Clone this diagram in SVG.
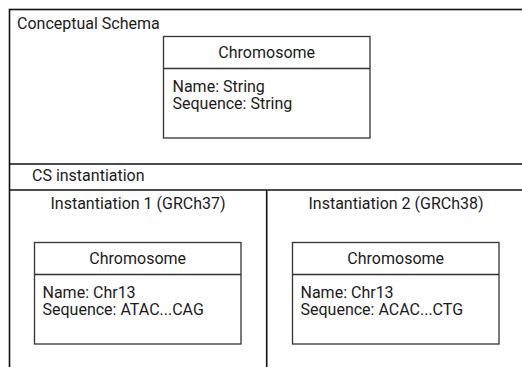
<svg xmlns="http://www.w3.org/2000/svg" width="522" height="367" viewBox="0 0 522 367">
<style>
.frame{fill:none;stroke:#111;stroke-width:1.6}
.box{fill:#fff;stroke:#333;stroke-width:1.3}
text{font-family:Roboto,"Liberation Sans",Arial,sans-serif;font-size:16px;fill:#1a1a1a}
.c{text-anchor:middle}
</style>
<rect width="522" height="367" fill="#fff"/>
<g id="frame">
<rect class="frame" x="9.5" y="9.5" width="530" height="380"/>
<line class="frame" x1="9.5" y1="164" x2="530" y2="164"/>
<line class="frame" x1="9.5" y1="190" x2="530" y2="190"/>
<line class="frame" x1="266.7" y1="190" x2="266.7" y2="380"/>
<text x="17" y="28.5">Conceptual Schema</text>
<text x="32" y="181">CS instantiation</text>
<text class="c" x="138" y="209">Instantiation 1 (GRCh37)</text>
<text class="c" x="396" y="209">Instantiation 2 (GRCh38)</text>
</g>
<g id="schema-chromosome">
<rect class="box" x="163.5" y="36.5" width="206.5" height="101.5"/>
<line class="box" x1="163.5" y1="68.5" x2="370" y2="68.5"/>
<text class="c" x="266.7" y="57.5">Chromosome</text>
<text x="172.5" y="91.7">Name: String</text>
<text x="172.5" y="109.2">Sequence: String</text>
</g>
<g id="inst1-chromosome">
<rect class="box" x="34.5" y="242.5" width="206.5" height="101.5"/>
<line class="box" x1="34.5" y1="274.5" x2="241" y2="274.5"/>
<text class="c" x="137.7" y="264">Chromosome</text>
<text x="42.5" y="297.5">Name: Chr13</text>
<text x="42.5" y="315">Sequence: ATAC...CAG</text>
</g>
<g id="inst2-chromosome">
<rect class="box" x="292.5" y="242.5" width="206.5" height="101.5"/>
<line class="box" x1="292.5" y1="274.5" x2="499" y2="274.5"/>
<text class="c" x="395.7" y="264">Chromosome</text>
<text x="300.5" y="297.5">Name: Chr13</text>
<text x="300.5" y="315">Sequence: ACAC...CTG</text>
</g>
<g id="connectors"></g>
</svg>
